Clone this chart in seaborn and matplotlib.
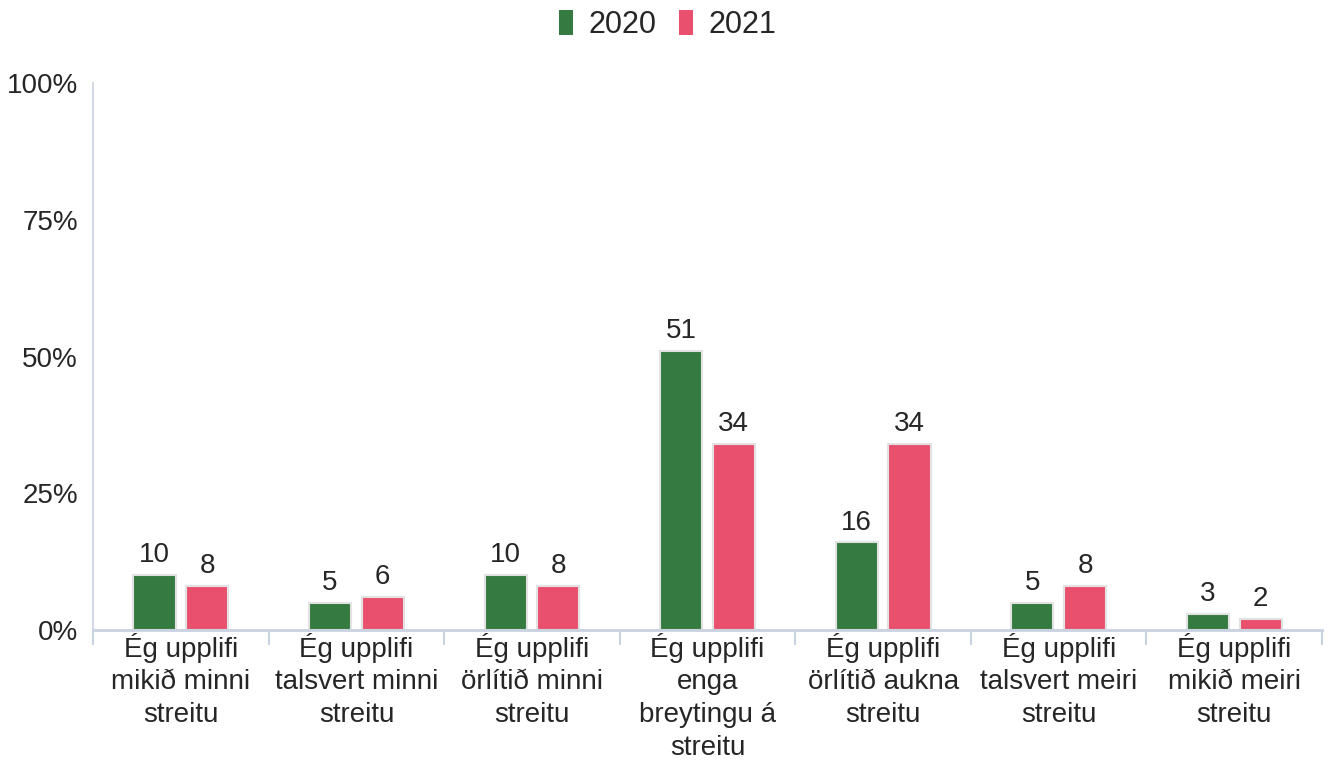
import pandas as pd
import matplotlib
matplotlib.use('Agg')
import matplotlib.pyplot as plt
import seaborn as sns
from matplotlib.patches import Patch

# answers and shares (%)
categories = ['Ég upplifi\nmikið minni\nstreitu',
              'Ég upplifi\ntalsvert minni\nstreitu',
              'Ég upplifi\nörlítið minni\nstreitu',
              'Ég upplifi\nenga\nbreytingu á\nstreitu',
              'Ég upplifi\nörlítið aukna\nstreitu',
              'Ég upplifi\ntalsvert meiri\nstreitu',
              'Ég upplifi\nmikið meiri\nstreitu']
years = ['2020', '2021']
values_2020 = [10, 5, 10, 51, 16, 5, 3]
values_2021 = [8, 6, 8, 34, 34, 8, 2]
y_ticks = [0, 25, 50, 75, 100]

colors = {'2020': '#357a40', '2021': '#e9506e'}
axis_col = '#c9d2e0'
text_col = '#262626'

df = pd.DataFrame({
    'svar': categories * 2,
    'ar': ['2020'] * len(categories) + ['2021'] * len(categories),
    'hlutfall': values_2020 + values_2021,
})

sns.set_theme(style='white')
plt.rcParams['font.family'] = ['Liberation Sans', 'DejaVu Sans']

fig = plt.figure(figsize=(13.35, 7.62), dpi=100)
ax = fig.add_axes([0.0697, 0.1732, 0.9206, 0.7179])

sns.barplot(data=df, x='svar', y='hlutfall', hue='ar', palette=colors,
            saturation=1, width=0.6, gap=0.2, edgecolor='#e2e2e2', linewidth=1.5,
            legend=False, ax=ax)

for cont in ax.containers:
    ax.bar_label(cont, fmt='%d', padding=5, fontsize=20, color=text_col)

ax.set_ylim(0, 100)
ax.set_xlim(-0.5, len(categories) - 0.5)
ax.set_yticks(y_ticks)
ax.set_yticklabels([f'{t}%' for t in y_ticks])
ax.set_xlabel('')
ax.set_ylabel('')

# tick marks between groups
ax.set_xticks([i - 0.5 for i in range(len(categories) + 1)], minor=True)
ax.tick_params(axis='x', which='minor', length=11, width=1.5, color=axis_col, direction='out', bottom=True)
ax.tick_params(axis='x', which='major', length=0, pad=2, labelsize=20, labelcolor=text_col)
ax.tick_params(axis='y', length=0, pad=11, labelsize=20, labelcolor=text_col)
for lab in ax.get_xticklabels():
    lab.set_linespacing(1.33)

for s in ['top', 'right']:
    ax.spines[s].set_visible(False)
ax.spines['left'].set_color(axis_col)
ax.spines['left'].set_linewidth(1.2)
ax.spines['bottom'].set_color(axis_col)
ax.spines['bottom'].set_linewidth(2)

handles = [Patch(facecolor=colors[y], edgecolor='none', label=y) for y in years]
fig.legend(handles=handles, loc='center', bbox_to_anchor=(0.5, 0.967), ncol=2,
           frameon=False, fontsize=22, handlelength=0.45, handleheight=0.9,
           handletextpad=0.5, columnspacing=0.75, labelcolor=text_col)

fig.savefig('out.png', dpi=100)
